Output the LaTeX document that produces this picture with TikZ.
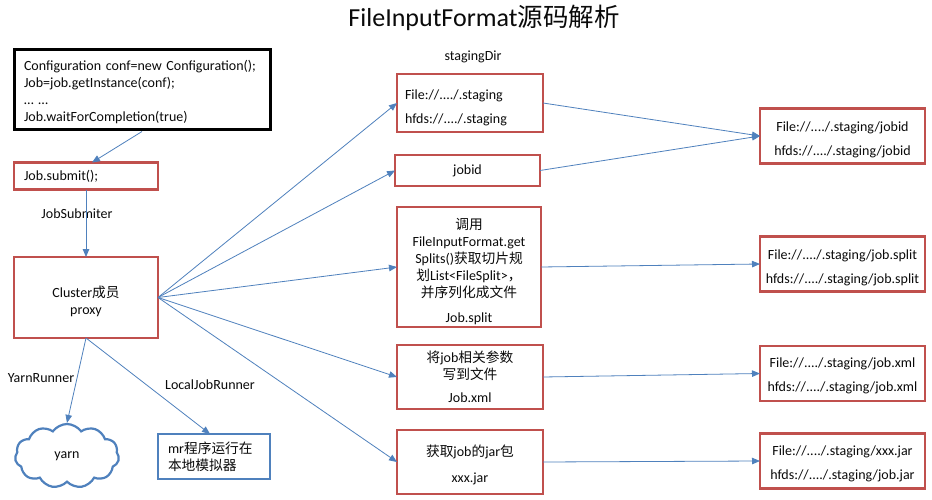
\documentclass[tikz,border=0pt]{standalone}
\usepackage{fontspec}
\setmainfont{Carlito}
\newfontfamily\cjk[Scale=0.98]{Noto Sans CJK SC}
\usetikzlibrary{shapes.symbols,arrows.meta}
\newcommand{\zh}[1]{{\cjk #1}}
\newcommand{\dn}[1]{\rule{0pt}{#1}}
\definecolor{boxred}{RGB}{192,80,77}
\definecolor{arrblue}{RGB}{79,129,189}
\definecolor{txt}{RGB}{10,10,10}
\begin{document}
\begin{tikzpicture}[x=1pt,y=-1pt,
  font=\fontsize{14}{17}\selectfont, text=txt,
  redbox/.style={draw=boxred, line width=2.4pt, fill=white, inner sep=0pt, outer sep=0pt},
  bluebox/.style={draw=arrblue, line width=2.4pt, fill=white, inner sep=0pt, outer sep=0pt},
  rbox/.style={redbox, minimum width=165pt, minimum height=55pt, align=center, font=\fontsize{14}{24}\selectfont},
  lbl/.style={inner sep=0pt},
  arr/.style={draw=arrblue, line width=0.8pt, -{Triangle[length=8pt,width=6.5pt]}}
]
\useasboundingbox[fill=white] (0,0) rectangle (932,500);

\node[lbl, font=\fontsize{26}{28}\selectfont] (title) at (484,18) {FileInputFormat\zh{源码解析}};

\node[draw=black, line width=3pt, fill=white, minimum width=256pt, minimum height=80pt,
      inner xsep=10pt, text width=236pt, align=left] (config) at (142,90)
  {\dn{14.5pt}Configuration conf=new Configuration();\\Job=job.getInstance(conf);\\\dots\ \dots\\Job.waitForCompletion(true)};

\node[redbox, minimum width=144pt, minimum height=27pt, inner xsep=10pt, text width=124pt, align=left] (submit) at (86,176) {Job.submit();};

\node[lbl] (jsub) at (77,214) {JobSubmiter};

\node[redbox, minimum width=144pt, minimum height=81pt, align=center] (cluster) at (86,297.5) {\dn{20pt}Cluster\zh{成员}\\proxy};

\node[lbl] (yarnrunner) at (41,378) {YarnRunner};
\node[lbl] (localrunner) at (210,385) {LocalJobRunner};

\node[cloud, draw=arrblue, line width=2.2pt, fill=white, cloud puffs=11, cloud puff arc=110,
      minimum width=104pt, minimum height=64pt, inner sep=0pt] (yarn) at (67,456) {yarn};

\node[bluebox, minimum width=112pt, minimum height=45pt, inner xsep=10pt, text width=92pt, align=left] (mr) at (214,456.5)
  {mr\zh{程序运行在}\\\zh{本地模拟器}};

\node[lbl] (stagingdir) at (473,57) {stagingDir};

\node[redbox, minimum width=146pt, minimum height=58pt, inner xsep=8pt, text width=130pt, align=left,
      font=\fontsize{14}{24}\selectfont] (staging) at (470,103)
  {\dn{18.5pt}File://..../.staging\\hfds://..../.staging};

\node[redbox, minimum width=145pt, minimum height=31pt] (jobid) at (467.5,170.5) {jobid};

\node[redbox, minimum width=144pt, minimum height=120pt, align=center] (split) at (469,267)
  {\dn{20pt}\zh{调用}\\FileInputFormat.get\\Splits()\zh{获取切片规}\\\zh{划}List<FileSplit>\zh{，}\\\zh{并序列化成文件}\\[8pt]Job.split};

\node[redbox, minimum width=146pt, minimum height=64pt, align=center] (xml) at (470,377)
  {\zh{将}job\zh{相关参数}\\\zh{写到文件}\\[6pt]Job.xml};

\node[redbox, minimum width=146pt, minimum height=64pt, align=center] (jar) at (470,462)
  {\dn{17.5pt}\zh{获取}job\zh{的}jar\zh{包}\\[9pt]xxx.jar};

\node[rbox] (rjobid) at (842.5,136) {\dn{17pt}File://..../.staging/jobid\\hfds://..../.staging/jobid};
\node[rbox] (rsplit) at (842.5,264) {\dn{17pt}File://..../.staging/job.split\\hfds://..../.staging/job.split};
\node[rbox] (rxml) at (842.5,373.5) {\dn{15pt}File://..../.staging/job.xml\\hfds://..../.staging/job.xml};
\node[rbox] (rjar) at (842.5,461) {\dn{15pt}File://..../.staging/xxx.jar\\hfds://..../.staging/job.jar};

\draw[arr] (config.south) -- ([xshift=6pt]submit.north);
\draw[arr] (submit.south) -- (cluster.north);
\draw[arr] (cluster.south) -- (yarn.north);
\draw[arr] (cluster.south) -- ([xshift=-4pt]mr.north);
\draw[arr] (cluster.east) -- (staging.west);
\draw[arr] (cluster.east) -- (jobid.west);
\draw[arr] (cluster.east) -- (split.west);
\draw[arr] (cluster.east) -- (xml.west);
\draw[arr] (cluster.east) -- (jar.west);
\draw[arr] (staging.east) -- (rjobid.west);
\draw[arr] (jobid.east) -- (rjobid.west);
\draw[arr] (split.east) -- (rsplit.west);
\draw[arr] (xml.east) -- (rxml.west);
\draw[arr] (jar.east) -- (rjar.west);
\end{tikzpicture}
\end{document}
